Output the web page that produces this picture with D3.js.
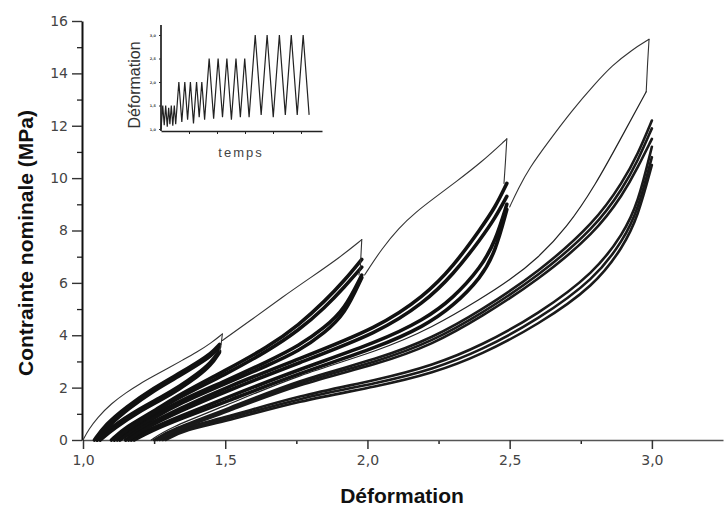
<!DOCTYPE html>
<html>
<head>
<meta charset="utf-8">
<script src="https://cdn.jsdelivr.net/npm/d3@7"></script>
<style>
  html, body { margin: 0; padding: 0; background: #fff; }
  svg { display: block; }
  .tick text { font-family: "DejaVu Sans", sans-serif; fill: #444; }
</style>
</head>
<body>
<svg id="chart" width="724" height="510"></svg>
<script>
// ---- axes ----
const xTicks = [1.0, 1.5, 2.0, 2.5, 3.0];
const xMinorTicks = [1.25, 1.75, 2.25, 2.75];
const yTicks = [0, 2, 4, 6, 8, 10, 12, 14, 16];
const yMinorTicks = [1, 3, 5, 7, 9, 11, 13, 15];

// ---- first loading (envelope) segments, [strain, stress MPa] ----
const envelope1 = [[1.0,0],[1.02,0.4],[1.05,0.85],[1.1,1.4],[1.15,1.8],[1.2,2.15],[1.25,2.45],[1.3,2.75],[1.35,3.05],[1.4,3.35],[1.45,3.7],[1.49,4.05]];
const envelope2 = [[1.49,3.8],[1.6,4.65],[1.7,5.45],[1.8,6.2],[1.9,6.95],[1.98,7.65]];
const envelope3 = [[1.99,6.3],[2.05,7.3],[2.11,8.1],[2.17,8.7],[2.23,9.2],[2.31,9.85],[2.4,10.6],[2.49,11.5]];
const envelope4 = [[2.5,8.9],[2.53,9.6],[2.57,10.4],[2.63,11.3],[2.72,12.6],[2.8,13.6],[2.86,14.3],[2.93,14.9],[2.99,15.3]];

// ---- drop from each maximum at the start of unloading ----
const peakDrop1 = [[1.49,4.05],[1.485,3.6],[1.48,3.4]];
const peakDrop2 = [[1.98,7.65],[1.975,6.6],[1.97,6.3]];
const peakDrop3 = [[2.49,11.5],[2.485,10.6],[2.48,9.8]];
const peakDrop4 = [[2.99,15.3],[2.985,14.4],[2.98,13.3]];

// ---- cycles at maximum strain 1.5 ----
const reload1 = [
  [[1.04,0],[1.08,0.6],[1.15,1.25],[1.25,2.0],[1.34,2.55],[1.4,2.95],[1.45,3.3],[1.48,3.65]],
  [[1.05,0],[1.09,0.55],[1.16,1.2],[1.25,1.9],[1.34,2.45],[1.4,2.85],[1.45,3.2],[1.48,3.55]]
];
const unload1 = [
  [[1.05,0],[1.1,0.5],[1.2,1.2],[1.27,1.6],[1.34,2.05],[1.4,2.5],[1.45,2.95],[1.48,3.4]],
  [[1.06,0],[1.11,0.45],[1.2,1.1],[1.27,1.5],[1.34,1.95],[1.4,2.4],[1.45,2.85],[1.48,3.35]]
];

// ---- cycles at maximum strain 2.0 ----
const reload2 = [
  [[1.1,0],[1.15,0.5],[1.25,1.1],[1.34,1.75],[1.5,2.65],[1.65,3.55],[1.76,4.4],[1.85,5.3],[1.92,6.1],[1.98,6.9]],
  [[1.11,0],[1.16,0.45],[1.25,1.05],[1.34,1.65],[1.5,2.5],[1.65,3.4],[1.76,4.2],[1.85,5.05],[1.92,5.85],[1.98,6.6]]
];
const unload2 = [
  [[1.12,0],[1.18,0.5],[1.25,0.95],[1.34,1.5],[1.5,2.25],[1.65,3.0],[1.76,3.6],[1.85,4.3],[1.92,5.0],[1.98,6.3]],
  [[1.13,0],[1.19,0.45],[1.25,0.85],[1.34,1.4],[1.5,2.15],[1.65,2.85],[1.76,3.4],[1.85,4.1],[1.92,4.8],[1.98,6.2]]
];

// ---- cycles at maximum strain 2.5 ----
const reload3 = [
  [[1.15,0],[1.2,0.45],[1.34,1.2],[1.5,2.0],[1.76,3.1],[2.04,4.3],[2.2,5.5],[2.3,6.6],[2.4,8.1],[2.45,8.9],[2.49,9.8]],
  [[1.16,0],[1.21,0.4],[1.34,1.1],[1.5,1.85],[1.76,2.95],[2.04,4.1],[2.2,5.25],[2.3,6.3],[2.4,7.7],[2.45,8.5],[2.49,9.3]]
];
const unload3 = [
  [[1.17,0],[1.23,0.4],[1.34,0.9],[1.5,1.6],[1.76,2.7],[2.04,3.75],[2.2,4.6],[2.3,5.4],[2.4,6.6],[2.45,7.6],[2.49,9.0]],
  [[1.18,0],[1.24,0.35],[1.34,0.8],[1.5,1.45],[1.76,2.55],[2.04,3.55],[2.2,4.35],[2.3,5.1],[2.4,6.2],[2.45,7.2],[2.49,8.8]]
];

// ---- cycles at maximum strain 3.0 ----
const reload4First = [[1.24,0],[1.3,0.45],[1.5,1.3],[1.76,2.5],[2.04,3.4],[2.23,4.3],[2.4,5.4],[2.5,6.1],[2.6,6.95],[2.7,8.1],[2.8,9.7],[2.9,11.7],[2.98,13.3]];
const reload4 = [
  [[1.25,0],[1.31,0.4],[1.5,1.15],[1.76,2.3],[2.04,3.1],[2.23,3.9],[2.4,4.95],[2.6,6.4],[2.8,8.3],[2.9,9.9],[2.95,10.9],[3.0,12.2]],
  [[1.255,0],[1.315,0.38],[1.5,1.1],[1.76,2.22],[2.04,3.0],[2.23,3.78],[2.4,4.82],[2.6,6.25],[2.8,8.1],[2.9,9.65],[2.95,10.65],[3.0,11.9]],
  [[1.26,0],[1.32,0.35],[1.5,1.05],[1.76,2.15],[2.04,2.9],[2.23,3.65],[2.4,4.7],[2.6,6.1],[2.8,7.9],[2.9,9.4],[2.95,10.4],[3.0,11.5]]
];
const unload4 = [
  [[1.27,0],[1.34,0.45],[1.5,0.85],[1.76,1.7],[2.04,2.3],[2.23,2.85],[2.4,3.6],[2.6,4.8],[2.8,6.4],[2.9,7.9],[2.95,9.0],[3.0,11.2]],
  [[1.28,0],[1.35,0.42],[1.5,0.78],[1.76,1.6],[2.04,2.18],[2.23,2.7],[2.4,3.42],[2.6,4.6],[2.8,6.15],[2.9,7.65],[2.95,8.75],[3.0,10.8]],
  [[1.29,0],[1.36,0.4],[1.5,0.7],[1.76,1.5],[2.04,2.05],[2.23,2.55],[2.4,3.25],[2.6,4.4],[2.8,5.9],[2.9,7.4],[2.95,8.5],[3.0,10.5]]
];

// ---- inset: imposed strain over time (turning points of the cyclic ramps) ----
const insetTurns = [1.0,1.5,1.08,1.5,1.05,1.45,1.1,1.5,1.07,1.5,1.1,
                    2.0,1.15,2.0,1.2,2.0,1.12,2.0,1.25,2.0,1.2,
                    2.5,1.22,2.5,1.25,2.5,1.2,2.5,1.25,2.5,1.25,
                    3.0,1.3,3.0,1.25,3.0,1.3,3.0,1.3,3.0,1.3];
const insetYTicks = [1.0, 1.5, 2.0, 2.5, 3.0];
const insetXTicks = [8, 16, 24, 32, 40];

const svg = d3.select("#chart");

const x = d3.scaleLinear().domain([1.0, 3.25]).range([83, 723]);
const y = d3.scaleLinear().domain([0, 16]).range([440, 21]);

const comma = v => d3.format(".1f")(v).replace(".", ",");

// minor ticks first so the major axis lines sit on top
svg.append("g").attr("transform", "translate(0,440)")
  .call(d3.axisBottom(x).tickValues(xMinorTicks).tickSize(4).tickSizeOuter(0).tickFormat(""))
  .call(g => g.select(".domain").remove())
  .call(g => g.selectAll("line").attr("stroke", "#222").attr("stroke-width", 1.5));
svg.append("g").attr("transform", "translate(82,0)")
  .call(d3.axisLeft(y).tickValues(yMinorTicks).tickSize(5).tickSizeOuter(0).tickFormat(""))
  .call(g => g.select(".domain").remove())
  .call(g => g.selectAll("line").attr("stroke", "#222").attr("stroke-width", 1.3));

const xAxis = svg.append("g").attr("transform", "translate(0,440)")
  .call(d3.axisBottom(x).tickValues(xTicks).tickSize(9).tickSizeOuter(0).tickPadding(5).tickFormat(comma));
xAxis.select(".domain").attr("stroke", "#555").attr("stroke-width", 1.6);
xAxis.selectAll(".tick line").attr("stroke", "#333").attr("stroke-width", 1.5);
xAxis.selectAll(".tick text").attr("font-size", 14).attr("dy", "0.75em");

const yAxis = svg.append("g").attr("transform", "translate(82,0)")
  .call(d3.axisLeft(y).tickValues(yTicks).tickSize(10).tickSizeOuter(0).tickPadding(4));
yAxis.select(".domain").attr("stroke", "#111").attr("stroke-width", 2);
yAxis.selectAll(".tick line").attr("stroke", "#333").attr("stroke-width", 1.4);
yAxis.selectAll(".tick text").attr("font-size", 14);

// axis titles
svg.append("text")
  .attr("x", 402).attr("y", 503)
  .attr("text-anchor", "middle")
  .attr("font-family", "'Liberation Sans', Arial, sans-serif")
  .attr("font-weight", "bold").attr("font-size", 21).attr("fill", "#111")
  .text("Déformation");
svg.append("text")
  .attr("transform", "translate(33,243) rotate(-90)")
  .attr("text-anchor", "middle")
  .attr("font-family", "'Liberation Sans', Arial, sans-serif")
  .attr("font-weight", "bold").attr("font-size", 21).attr("fill", "#111")
  .text("Contrainte nominale (MPa)");

// ---- curves ----
const smooth = d3.line().x(d => x(d[0])).y(d => y(d[1])).curve(d3.curveBasis);
const straight = d3.line().x(d => x(d[0])).y(d => y(d[1]));

const curves = svg.append("g").attr("fill", "none").attr("stroke-linejoin", "round").attr("stroke-linecap", "round");

function band(list, width, colour) {
  list.forEach(c => curves.append("path").attr("d", smooth(c))
    .attr("stroke", colour).attr("stroke-width", width));
}

[[reload1, unload1], [reload2, unload2], [reload3, unload3]].forEach(([r, u]) => {
  band(u, 3.6, "#111");
  band(r, 3.6, "#111");
});
band(unload4, 2.6, "#1a1a1a");
band(reload4, 2.6, "#1a1a1a");
band([reload4First], 1.2, "#222");

[envelope1, envelope2, envelope3, envelope4].forEach(e =>
  curves.append("path").attr("d", smooth(e)).attr("stroke", "#333").attr("stroke-width", 1.1));
[peakDrop1, peakDrop2, peakDrop3, peakDrop4].forEach(p =>
  curves.append("path").attr("d", straight(p)).attr("stroke", "#333").attr("stroke-width", 1.1));

// ---- inset ----
const insetPoints = [];
let t = 0;
insetTurns.forEach((v, i) => {
  if (i > 0) t += Math.abs(v - insetTurns[i - 1]);
  insetPoints.push([t, v]);
});
const ix = d3.scaleLinear().domain([0, 46]).range([161, 322]);
const iy = d3.scaleLinear().domain([1.0, 3.0]).range([129, 35]);

const inset = svg.append("g");
const ixAxis = inset.append("g").attr("transform", "translate(0,131)")
  .call(d3.axisBottom(ix).tickValues(insetXTicks).tickSize(3).tickSizeOuter(0).tickFormat(""));
ixAxis.select(".domain").attr("stroke", "#222").attr("stroke-width", 1.3);
ixAxis.selectAll("line").attr("stroke", "#222");

const iyAxis = inset.append("g").attr("transform", "translate(161,0)")
  .call(d3.axisLeft(iy).tickValues(insetYTicks).tickSize(2).tickSizeOuter(0).tickPadding(3).tickFormat(comma));
iyAxis.select(".domain").attr("d", "M0,25V131").attr("stroke", "#111").attr("stroke-width", 1.6);
iyAxis.selectAll("line").attr("stroke", "#222");
iyAxis.selectAll(".tick text").attr("font-size", 3.5).attr("fill", "#111").attr("font-weight", "bold");

inset.append("path")
  .attr("d", d3.line().x(d => ix(d[0])).y(d => iy(d[1]))(insetPoints))
  .attr("fill", "none").attr("stroke", "#222").attr("stroke-width", 1.2);

inset.append("text")
  .attr("transform", "translate(140,85) rotate(-90)")
  .attr("text-anchor", "middle")
  .attr("font-family", "'Liberation Sans', Arial, sans-serif")
  .attr("font-size", 16).attr("fill", "#333")
  .text("Déformation");
inset.append("text")
  .attr("x", 241).attr("y", 157)
  .attr("text-anchor", "middle")
  .attr("font-family", "'Liberation Sans', Arial, sans-serif")
  .attr("font-size", 13).attr("letter-spacing", 2).attr("fill", "#444")
  .text("temps");
</script>
</body>
</html>
